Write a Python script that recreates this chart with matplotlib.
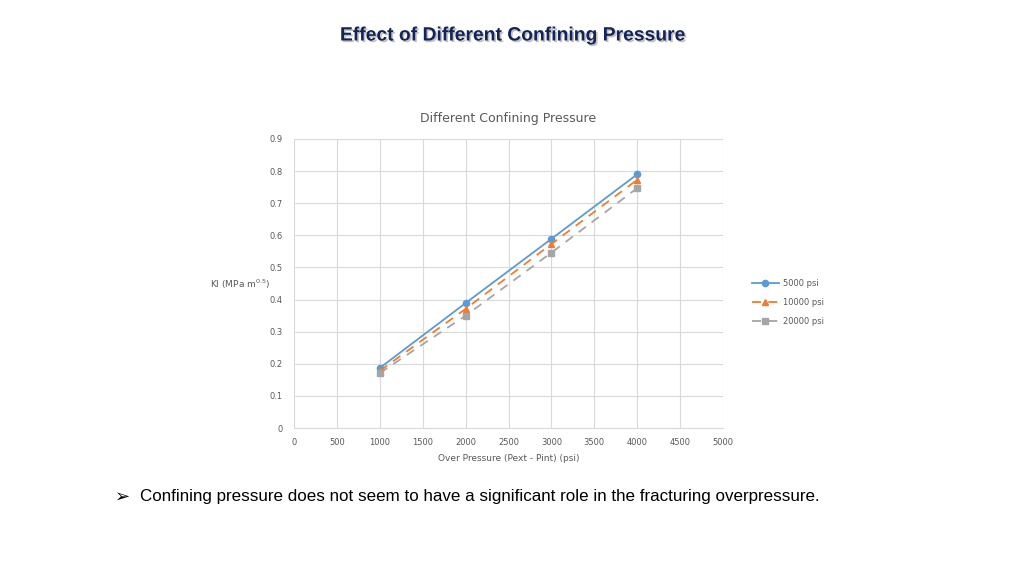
import matplotlib
matplotlib.use("Agg")
import matplotlib.pyplot as plt
import matplotlib.patheffects as pe

over_pressure = [1000, 2000, 3000, 4000]
kI_5000 = [0.187, 0.389, 0.589, 0.790]
kI_10000 = [0.178, 0.371, 0.573, 0.773]
kI_20000 = [0.171, 0.350, 0.546, 0.747]
series_labels = ["5000 psi", "10000 psi", "20000 psi"]
x_ticks = [0, 500, 1000, 1500, 2000, 2500, 3000, 3500, 4000, 4500, 5000]
y_ticks = [0, 0.1, 0.2, 0.3, 0.4, 0.5, 0.6, 0.7, 0.8, 0.9]

W, H = 1024, 576
fig = plt.figure(figsize=(W / 100, H / 100), dpi=100)
fig.patch.set_facecolor("white")

ax = fig.add_axes([294 / W, 1 - 428 / H, (723 - 294) / W, (428 - 139) / H])

tick_col = "#595959"
grid_col = "#d9d9d9"

ax.plot(over_pressure, kI_5000, color="#5b9bd5", lw=1.3, marker="o", ms=4.5,
        label=series_labels[0])
ax.plot(over_pressure, kI_10000, color="#ed7d31", lw=1.3, ls=(0, (5, 4)), marker="^", ms=5,
        label=series_labels[1])
ax.plot(over_pressure, kI_20000, color="#a5a5a5", lw=1.3, ls=(0, (5, 4)), marker="s", ms=4.5,
        label=series_labels[2])

ax.set_xlim(0, 5000)
ax.set_ylim(0, 0.9)
ax.set_xticks(x_ticks)
ax.set_yticks(y_ticks)
ax.set_xticklabels([str(v) for v in x_ticks])
ax.set_yticklabels([("%g" % v) for v in y_ticks])
ax.tick_params(axis="both", length=0, labelsize=6, labelcolor=tick_col, pad=8)
ax.tick_params(axis="x", pad=7)
ax.grid(True, color=grid_col, lw=0.8)
ax.set_axisbelow(True)
for s in ax.spines.values():
    s.set_visible(False)
ax.spines["bottom"].set_visible(True)
ax.spines["bottom"].set_color(grid_col)

ax.set_xlabel("Over Pressure (Pext - Pint) (psi)", fontsize=6.5, color=tick_col, labelpad=5)
ax.set_title("Different Confining Pressure", fontsize=9, color=tick_col, pad=12)
fig.text(210 / W, 1 - 284 / H, "KI (MPa m$^{0.5}$)", fontsize=6.5, color=tick_col,
         ha="left", va="center")

leg = ax.legend(loc="center left", bbox_to_anchor=(1.05, 0.435), frameon=False, fontsize=6,
                labelcolor=tick_col, handlelength=3.2, handletextpad=0.5, labelspacing=1.2)

fig.text(512 / W, 1 - 36 / H, "Effect of Different Confining Pressure", fontsize=13.9,
         fontweight="bold", color="#14245a", family="Liberation Sans", ha="center", va="center",
         path_effects=[pe.SimplePatchShadow(offset=(1.2, -1.2), shadow_rgbFace="#9a9a9a", alpha=0.6),
                       pe.Normal()])

fig.text(115 / W, 1 - 497 / H, "\u27a2", fontsize=13, color="black",
         family=["DejaVu Sans"], ha="left", va="center")
fig.text(140 / W, 1 - 497 / H,
         "Confining pressure does not seem to have a significant role in the fracturing overpressure.",
         fontsize=12.25, color="black", family=["Liberation Sans", "DejaVu Sans"], ha="left", va="center")

fig.savefig("out.png", dpi=100)
